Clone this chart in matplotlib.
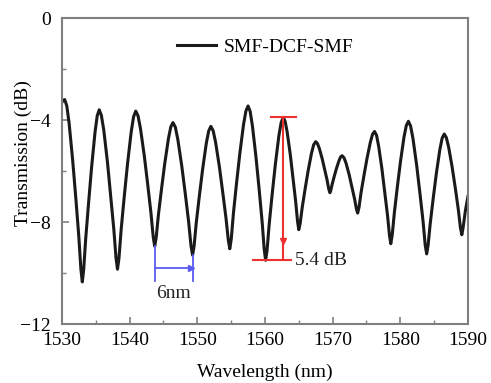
import matplotlib
matplotlib.use('Agg')
import matplotlib.pyplot as plt
from matplotlib.ticker import MultipleLocator

plt.rcParams['font.family'] = ['Liberation Serif', 'DejaVu Serif']
plt.rcParams['font.size'] = 14

# transmission spectrum, points (nm, dB)
wavelength = [
    1530.0, 1530.2, 1530.4,
    1530.71, 1531.05, 1531.57, 1532.04, 1532.48, 1532.79, 1533.0,
    1533.2, 1533.5, 1533.93, 1534.38, 1534.88, 1535.2, 1535.5,
    1535.82, 1536.18, 1536.72, 1537.2, 1537.66, 1537.98, 1538.2,
    1538.42, 1538.74, 1539.2, 1539.69, 1540.23, 1540.58, 1540.9,
    1541.24, 1541.6, 1542.16, 1542.66, 1543.14, 1543.48, 1543.7,
    1543.92, 1544.24, 1544.7, 1545.19, 1545.73, 1546.08, 1546.4,
    1546.75, 1547.13, 1547.71, 1548.23, 1548.72, 1549.07, 1549.3,
    1549.52, 1549.84, 1550.3, 1550.79, 1551.33, 1551.68, 1552.0,
    1552.34, 1552.7, 1553.26, 1553.76, 1554.24, 1554.58, 1554.8,
    1555.02, 1555.34, 1555.8, 1556.29, 1556.83, 1557.18, 1557.5,
    1557.81, 1558.15, 1558.67, 1559.14, 1559.58, 1559.89, 1560.1,
    1560.31, 1560.62, 1561.06, 1561.53, 1562.05, 1562.39, 1562.7,
    1562.98, 1563.28, 1563.74, 1564.15, 1564.54, 1564.82, 1565.0,
    1565.2, 1565.5, 1565.93, 1566.38, 1566.88, 1567.2, 1567.5,
    1567.75, 1568.03, 1568.45, 1568.82, 1569.18, 1569.43, 1569.6,
    1569.74, 1569.96, 1570.27, 1570.59, 1570.95, 1571.18, 1571.4,
    1571.68, 1571.98, 1572.44, 1572.85, 1573.24, 1573.52, 1573.7,
    1573.9, 1574.2, 1574.63, 1575.08, 1575.58, 1575.9, 1576.2,
    1576.49, 1576.8, 1577.28, 1577.71, 1578.12, 1578.41, 1578.6,
    1578.81, 1579.12, 1579.56, 1580.03, 1580.55, 1580.89, 1581.2,
    1581.52, 1581.88, 1582.42, 1582.9, 1583.36, 1583.68, 1583.9,
    1584.11, 1584.42, 1584.86, 1585.33, 1585.85, 1586.19, 1586.5,
    1586.81, 1587.15, 1587.67, 1588.14, 1588.58, 1588.89, 1589.1,
    1589.3, 1589.6, 1590.0,
]
transmission = [
    -3.3, -3.22, -3.2,
    -3.45, -4.13, -5.56, -7.06, -8.56, -9.85, -10.35,
    -9.88, -8.66, -7.24, -5.83, -4.48, -3.84, -3.6,
    -3.82, -4.41, -5.66, -6.98, -8.29, -9.41, -9.85,
    -9.42, -8.30, -7.00, -5.70, -4.46, -3.87, -3.65,
    -3.84, -4.34, -5.40, -6.51, -7.63, -8.58, -8.95,
    -8.61, -7.74, -6.72, -5.70, -4.73, -4.27, -4.1,
    -4.28, -4.78, -5.82, -6.91, -8.00, -8.94, -9.3,
    -8.95, -8.04, -6.98, -5.92, -4.91, -4.43, -4.25,
    -4.42, -4.87, -5.83, -6.84, -7.85, -8.71, -9.05,
    -8.66, -7.65, -6.47, -5.30, -4.18, -3.65, -3.45,
    -3.66, -4.24, -5.45, -6.72, -7.99, -9.08, -9.5,
    -9.11, -8.10, -6.92, -5.75, -4.63, -4.10, -3.9,
    -4.05, -4.47, -5.35, -6.28, -7.20, -7.99, -8.3,
    -8.06, -7.44, -6.71, -5.99, -5.30, -4.97, -4.85,
    -4.92, -5.11, -5.51, -5.93, -6.35, -6.71, -6.85,
    -6.75, -6.49, -6.18, -5.88, -5.59, -5.45, -5.4,
    -5.48, -5.69, -6.14, -6.62, -7.09, -7.49, -7.65,
    -7.43, -6.85, -6.18, -5.51, -4.87, -4.56, -4.45,
    -4.60, -5.02, -5.90, -6.83, -7.75, -8.54, -8.85,
    -8.51, -7.65, -6.64, -5.63, -4.67, -4.22, -4.05,
    -4.23, -4.73, -5.77, -6.86, -7.95, -8.89, -9.25,
    -8.92, -8.08, -7.09, -6.10, -5.16, -4.71, -4.55,
    -4.69, -5.06, -5.85, -6.68, -7.51, -8.22, -8.5,
    -8.2, -7.6, -7.0,
]

# extinction ratio marker
er_x = 1562.6
er_top, er_bottom = -3.87, -9.49
er_label = '5.4 dB'

# FSR marker
fsr_left, fsr_right = 1543.7, 1549.3
fsr_dips = [-8.95, -9.3]
fsr_y = -9.8
fsr_label = '6nm'

red = '#ee3030'
blue = '#5a5af0'
gray = '#7f7f7f'

fig = plt.figure(figsize=(4.91, 3.83), dpi=100)
ax = fig.add_axes([0.1263, 0.154, 0.8267, 0.799])

ax.plot(wavelength, transmission, color='#1a1a1a', lw=2.2, label='SMF-DCF-SMF')

# red extinction ratio bar
ax.plot([er_x, er_x], [er_top, er_bottom], color=red, lw=1.5)
ax.plot([1560.9, 1564.6], [er_top, er_top], color=red, lw=1.5)
ax.plot([1558.2, 1563.8], [er_bottom, er_bottom], color=red, lw=1.5)
ax.plot([er_x], [-8.75], marker='v', ms=4, color=red)
ax.text(1564.4, er_bottom, er_label, color='#222222', va='center', ha='left', fontsize=14)

# blue FSR bracket
ax.plot([fsr_left, fsr_left], [fsr_dips[0], -10.3], color=blue, lw=1.3)
ax.plot([fsr_right, fsr_right], [fsr_dips[1], -10.3], color=blue, lw=1.3)
ax.plot([fsr_left, fsr_right], [fsr_y, fsr_y], color=blue, lw=1.3)
ax.plot([fsr_right - 0.25], [fsr_y], marker='>', ms=4, color=blue)
ax.text((fsr_left + fsr_right) / 2, -10.8, fsr_label, color='#222222',
        ha='center', va='center', fontsize=14)

ax.set_xlim(1530, 1590)
ax.set_ylim(-12, 0)
ax.xaxis.set_major_locator(MultipleLocator(10))
ax.xaxis.set_minor_locator(MultipleLocator(5))
ax.yaxis.set_major_locator(MultipleLocator(4))
ax.yaxis.set_minor_locator(MultipleLocator(2))
ax.tick_params(which='both', direction='in', top=False, right=False, color=gray)
ax.tick_params(which='major', length=5, width=1.2)
ax.tick_params(which='minor', length=3, width=1.0)
ax.tick_params(axis='x', pad=6, labelsize=14)
ax.tick_params(axis='y', pad=8, labelsize=14)
for s in ax.spines.values():
    s.set_color(gray)
    s.set_linewidth(1.5)

ax.set_xlabel('Wavelength (nm)', fontsize=14, labelpad=10)
ax.set_ylabel('Transmission (dB)', fontsize=14)
ax.yaxis.set_label_coords(-0.075, 0.56)

ax.legend(loc='center', bbox_to_anchor=(0.5, 0.905), frameon=False,
          handlelength=2.0, handletextpad=0.4, fontsize=14)

fig.savefig('out.png', dpi=100)
